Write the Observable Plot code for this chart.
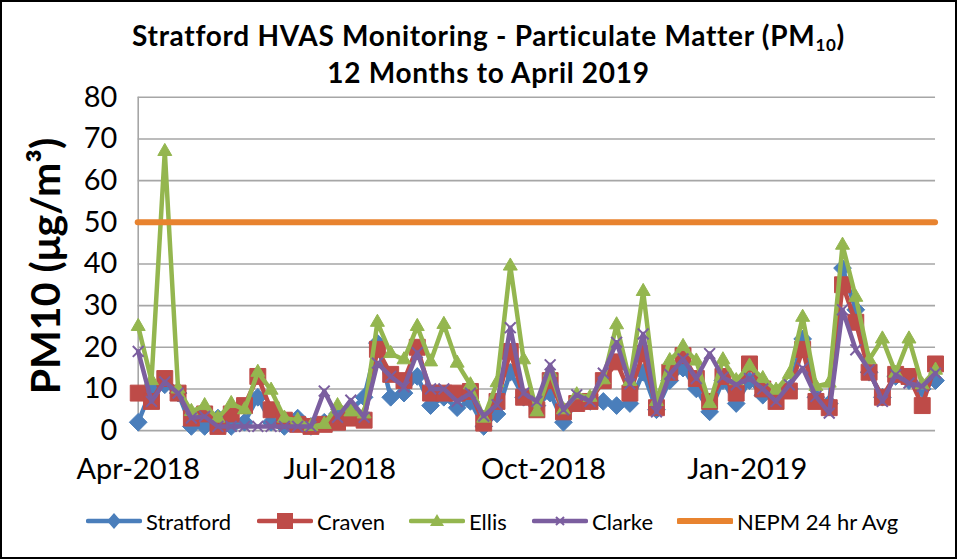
<!DOCTYPE html>
<html><head><meta charset="utf-8">
<script src="https://cdn.jsdelivr.net/npm/d3@7"></script>
<script src="https://cdn.jsdelivr.net/npm/@observablehq/plot@0.6"></script>
<style>
body{margin:0;background:#fff;}
#wrap{position:relative;width:957px;height:559px;box-sizing:border-box;border:2px solid #000;font-family:Lato,"Open Sans",sans-serif;overflow:hidden;background:#fff;color:#000;}
#title{position:absolute;left:20px;width:933px;top:15px;text-align:center;font-weight:bold;font-size:28px;letter-spacing:0.7px;line-height:37px;}
#title sub{font-size:17px;vertical-align:-5px;line-height:0;}
#plot{position:absolute;left:-2px;top:-2px;}
#ylab{position:absolute;left:42px;top:264px;transform:translate(-50%,-50%) rotate(-90deg);white-space:nowrap;font-weight:bold;font-size:41px;}
.leg{position:absolute;top:506px;height:26px;display:flex;align-items:center;font-size:22px;white-space:nowrap;}
.leg svg{margin-right:4px;}
</style></head>
<body>
<div id="wrap">
  <div id="title">Stratford HVAS Monitoring - Particulate Matter (PM<sub>10</sub>)<br>12 Months to April 2019</div>
  <div id="plot"></div>
  <div id="ylab">PM10 (μg/m³)</div>
  <div id="legend"></div>
</div>
<script>
const dates = ["2018-04-01","2018-04-07","2018-04-13","2018-04-19","2018-04-25","2018-05-01","2018-05-07","2018-05-13","2018-05-19","2018-05-25",
"2018-05-31","2018-06-06","2018-06-12","2018-06-18","2018-06-24","2018-06-30","2018-07-06","2018-07-12","2018-07-18","2018-07-24",
"2018-07-30","2018-08-05","2018-08-11","2018-08-17","2018-08-23","2018-08-29","2018-09-04","2018-09-10","2018-09-16","2018-09-22",
"2018-09-28","2018-10-04","2018-10-10","2018-10-16","2018-10-22","2018-10-28","2018-11-03","2018-11-09","2018-11-15","2018-11-21",
"2018-11-27","2018-12-03","2018-12-09","2018-12-15","2018-12-21","2018-12-27","2019-01-02","2019-01-08","2019-01-14","2019-01-20",
"2019-01-26","2019-02-01","2019-02-07","2019-02-13","2019-02-19","2019-02-25","2019-03-03","2019-03-09","2019-03-15","2019-03-21",
"2019-03-27"];
const stratford = [2,10,11,9,1,1,3,1,2,8, 2,1,3,1,2,4,5,8,21,8, 9,13,6,8,5.5,7,1,4,14,8, 6,9,2,7,7,7,6,6.5,14,5, 12,15,10,4.5,12,6.5,12,8.5,8,10, 22,8,6.5,39,29,14,8,13,12,10, 12];
const craven = [9,7,12.5,9,3,4,1,4,6,13, 5,2.5,1.5,1,1.5,2,3,2.5,19.5,13.5, 12,20,9,9,9,9.4,1.8,7,19,8, 5,12,4.5,6.5,7,12,16.5,9,18.5,5.5, 14,18,12.5,7,13,9,16,10,7,9.5, 19.5,7,5.5,35,26,14,8,13.5,13,6, 16];
const ellis = [25,12,67,10,4.6,6,3,6.5,5,14, 9.7,3,2.5,1,1.5,6,4.5,4,26,18.5, 17,25,16.5,25.5,16.2,11,3,11.5,39.5,17, 4.5,14,5,8.6,8,12.2,25.4,11.8,33.4,7, 16.8,20.2,16.7,6.5,17,12,15.5,12.5,9.7,13.5, 27.2,10.6,11.4,44.5,32,17,22,13.8,22,11, 14.5];
const clarke = [19,7,11.7,9,3,3.4,1,1,1,1, 1,1,1,1,9.5,3.2,7.3,3.2,16.2,13, 10.5,18.7,10,10,7,9,3.5,6.2,24.7,9, 7,15.8,5,8.6,7,13.8,21.2,11.2,23.2,4.5, 13.5,17.2,12.5,18.5,12.8,11,12.5,10,7,11, 15,8.2,4.2,29,19.4,14.6,7,13.4,11.4,10.6, 13.8];
const nepmLimit = 50;
const seriesNames = ["Stratford","Craven","Ellis","Clarke","NEPM 24 hr Avg"];
const colors = ["#4A7EBB","#BE4B48","#94B64F","#7B5E9F","#E8832F"];
const yTicks = [0,10,20,30,40,50,60,70,80];
const xTicks = ["2018-04-01","2018-07-01","2018-10-01","2019-01-01"];
const xDomain = ["2018-04-01","2019-03-27"];

const parse = s => new Date(s + "T00:00:00Z");
const seriesValues = [stratford, craven, ellis, clarke];
const symbols = ["diamond2","square","triangle","times"];
const radii = [8, 9, 5.2, 5];

const marks = [
  Plot.gridY(yTicks, {stroke:"#A6A6A6", strokeOpacity:1, strokeWidth:1.6}),
  Plot.ruleX([parse(xDomain[0])], {y1:0, y2:80, stroke:"#A6A6A6", strokeWidth:1.6}),
  Plot.axisY({ticks: yTicks, tickSize:0, tickPadding:21, label:null, fontSize:29}),
  Plot.axisX({ticks: xTicks.map(parse), tickSize:0, tickPadding:28, label:null, tickFormat: d3.utcFormat("%b-%Y"), fontSize:29})
];
seriesValues.forEach((vals, k) => {
  const rows = vals.map((v, i) => ({date: parse(dates[i]), value: v}));
  marks.push(Plot.line(rows, {x:"date", y:"value", stroke: colors[k], strokeWidth:4.5}));
  if (symbols[k] === "times") {
    marks.push(Plot.dot(rows, {x:"date", y:"value", symbol:"times", r: radii[k], stroke: colors[k], strokeWidth:2, fill:"none"}));
  } else {
    marks.push(Plot.dot(rows, {x:"date", y:"value", symbol: symbols[k], r: radii[k], fill: colors[k], stroke: colors[k], strokeWidth:1}));
  }
});
marks.push(Plot.ruleY([nepmLimit], {stroke: colors[4], strokeWidth:6, strokeLinecap:"round"}));

const chart = Plot.plot({
  width: 957, height: 500,
  marginLeft: 138, marginRight: 20, marginTop: 97, marginBottom: 69,
  x: {type:"utc", domain: xDomain.map(parse)},
  y: {domain:[0,80]},
  style: {fontFamily: "Lato, 'Open Sans', sans-serif", fontSize: "29px", color:"#000", background:"transparent"},
  marks
});
document.getElementById("plot").appendChild(chart);

// legend
const legLeft = [84, 255, 407, 530, 675];
const legendDiv = document.getElementById("legend");
seriesNames.forEach((name, k) => {
  const item = document.createElement("div");
  item.className = "leg";
  item.style.left = legLeft[k] + "px";
  const W = 56, H = 26, c = colors[k];
  let marker = "";
  if (k === 0) marker = `<path d="M${W/2},${H/2-8} L${W/2+7},${H/2} L${W/2},${H/2+8} L${W/2-7},${H/2} Z" fill="${c}"/>`;
  if (k === 1) marker = `<rect x="${W/2-8}" y="${H/2-8}" width="16" height="16" fill="${c}"/>`;
  if (k === 2) marker = `<path d="M${W/2},${H/2-7} L${W/2+7},${H/2+5} L${W/2-7},${H/2+5} Z" fill="${c}"/>`;
  if (k === 3) marker = `<path d="M${W/2-4},${H/2-4} L${W/2+4},${H/2+4} M${W/2+4},${H/2-4} L${W/2-4},${H/2+4}" stroke="${c}" stroke-width="2"/>`;
  item.innerHTML = `<svg width="${W}" height="${H}"><line x1="2" x2="${W-2}" y1="${H/2}" y2="${H/2}" stroke="${c}" stroke-width="${k===4?6:4.5}" stroke-linecap="round"/>${marker}</svg><span>${name}</span>`;
  legendDiv.appendChild(item);
});
</script>
</body></html>
